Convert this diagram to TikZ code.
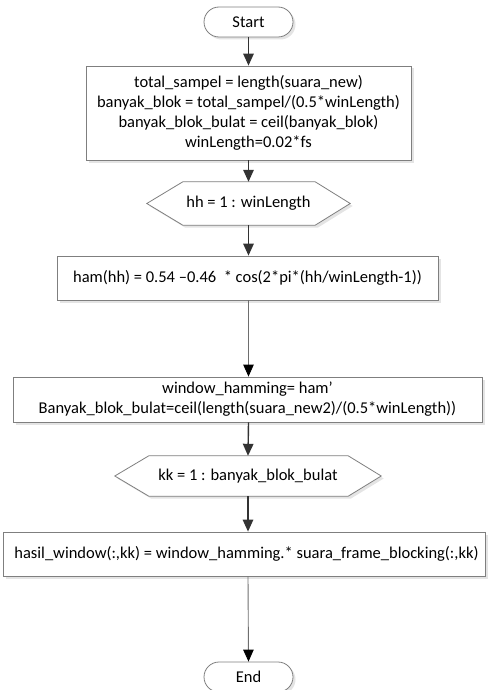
\documentclass[tikz,border=0pt]{standalone}
\usepackage{fontspec}
\setmainfont{Carlito}
\usetikzlibrary{arrows.meta,shadows,calc}
\definecolor{bordergray}{HTML}{7F7F7F}
\definecolor{arrowdark}{HTML}{333333}
\definecolor{arrowgray}{HTML}{6E6E6E}
\definecolor{shadowgray}{HTML}{E4E4E4}
\tikzset{
  boxstyle/.style={draw=bordergray, line width=0.8pt, fill=white, rectangle, inner sep=0pt, align=center,
    font=\fontsize{16.5}{20}\selectfont,
    drop shadow={shadow xshift=2.5pt, shadow yshift=-2.5pt, fill=shadowgray, opacity=1}},
  termstyle/.style={boxstyle, rounded corners=15pt, minimum width=89pt, minimum height=30pt},
  hexlabel/.style={rectangle, inner sep=0pt, font=\fontsize{16.5}{20}\selectfont},
  hexline/.style={draw=bordergray, line width=0.8pt, fill=white,
    drop shadow={shadow xshift=2.5pt, shadow yshift=-2.5pt, fill=shadowgray, opacity=1}},
  shortarrow/.style={draw=arrowdark, line width=1.4pt, -{Triangle[length=12pt,width=10.5pt]}},
  longarrow/.style={draw=arrowgray, line width=0.9pt, -{Triangle[length=12pt,width=10.5pt,color=black]}},
}
\begin{document}
\begin{tikzpicture}[x=1pt,y=-1pt]
\useasboundingbox (0,0) rectangle (488,690);

% nodes
\node[termstyle] (start) at (248.5,22) {Start};
\node[boxstyle, minimum width=325pt, minimum height=94pt] (b1) at (248.5,113)
  {total\_sampel = length(suara\_new)\\
   banyak\_blok = total\_sampel/(0.5*winLength)\\
   banyak\_blok\_bulat = ceil(banyak\_blok)\\
   winLength=0.02*fs};
\node[hexlabel, minimum width=203pt, minimum height=43pt] (h1) at (248.5,203.5) {hh = 1 : winLength};
\path[hexline] ([xshift=36pt]h1.north west) -- ([xshift=-35pt]h1.north east) -- (h1.east)
  -- ([xshift=-35pt]h1.south east) -- ([xshift=36pt]h1.south west) -- (h1.west) -- cycle;
\node[hexlabel] at (h1.center) {hh = 1 : winLength};
\node[boxstyle, minimum width=381pt, minimum height=44pt] (b2) at (247.5,278)
  {ham(hh) = 0.54 –0.46 \ * cos(2*pi*(hh/winLength-1))};
\node[boxstyle, minimum width=469pt, minimum height=45pt] (b3) at (247.5,399.5)
  {window\_hamming= ham’\\
   Banyak\_blok\_bulat=ceil(length(suara\_new2)/(0.5*winLength))};
\node[hexlabel, minimum width=266pt, minimum height=40pt] (h2) at (248,476) {kk = 1 : banyak\_blok\_bulat};
\path[hexline] ([xshift=34pt]h2.north west) -- ([xshift=-33pt]h2.north east) -- (h2.east)
  -- ([xshift=-33pt]h2.south east) -- ([xshift=34pt]h2.south west) -- (h2.west) -- cycle;
\node[hexlabel] at (h2.center) {kk = 1 : banyak\_blok\_bulat};
\node[boxstyle, minimum width=482pt, minimum height=44pt] (b4) at (244.5,554)
  {\hspace*{4pt}hasil\_window(:,kk) = window\_hamming.* suara\_frame\_blocking(:,kk)};
\node[termstyle] (end) at (248.5,677) {End};

% connectors
\draw[shortarrow] (start.south) -- (b1.north);
\draw[shortarrow] (b1.south) -- (h1.north);
\draw[shortarrow] (h1.south) -- (h1.south |- b2.north);
\draw[longarrow] (b2.south -| h1.south) -- (h1.south |- b3.north);
\draw[shortarrow] (h1.south |- b3.south) -- (h2.north);
\draw[shortarrow] (h2.south) -- (h2.south |- b4.north);
\draw[longarrow] (h2.south |- b4.south) -- (end.north);
\end{tikzpicture}
\end{document}
